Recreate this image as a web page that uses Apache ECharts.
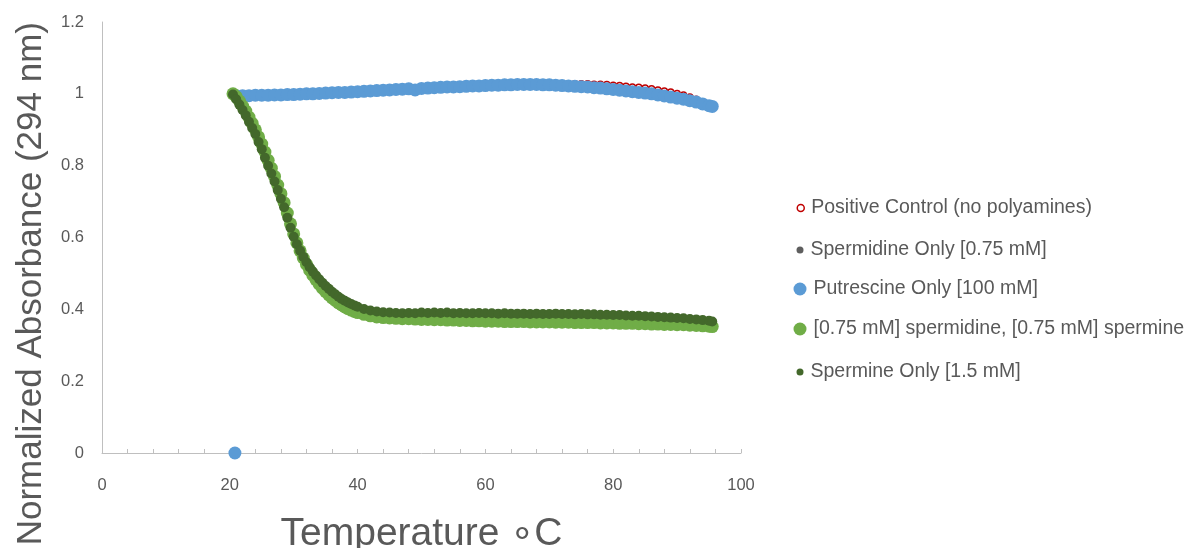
<!DOCTYPE html>
<html>
<head>
<meta charset="utf-8">
<script src="https://cdn.jsdelivr.net/npm/echarts@6/dist/echarts.min.js"></script>
<style>
html,body{margin:0;padding:0;background:#fff;}
#chart{width:1198px;height:548px;}
</style>
</head>
<body>
<div id="chart"></div>
<script>
// ---- Data ----
var seriesNames = [
  'Positive Control (no polyamines)',
  'Spermidine Only [0.75 mM]',
  'Putrescine Only [100 mM]',
  '[0.75 mM] spermidine, [0.75 mM] spermine',
  'Spermine Only [1.5 mM]'
];

// temperatures for flat (high) series
var tempHigh = [21,22,23,24,25,26,27,28,29,30,31,32,33,34,35,36,37,38,39,40,41,42,43,44,45,46,47,48,49,50,51,52,53,54,55,56,57,58,59,60,61,62,63,64,65,66,67,68,69,70,71,72,73,74,75,76,77,78,79,80,81,82,83,84,85,86,87,88,89,90,91,92,93,94,95,95.5];

var positiveControl = [0.999,0.999,0.999,1.000,1.000,1.000,1.001,1.001,1.002,1.002,
  1.003,1.004,1.004,1.005,1.006,1.007,1.008,1.008,1.009,1.010,
  1.011,1.012,1.013,1.014,1.015,1.016,1.017,1.018,1.017,1.019,
  1.020,1.021,1.022,1.023,1.023,1.024,1.025,1.026,1.026,1.027,
  1.028,1.028,1.029,1.029,1.030,1.030,1.030,1.030,1.029,1.029,
  1.028,1.028,1.028,1.028,1.028,1.028,1.027,1.027,1.026,1.024,
  1.023,1.021,1.019,1.018,1.016,1.014,1.011,1.008,1.005,1.001,
  0.997,0.991,0.985,0.977,0.969,0.965];

var spermidineOnly = [0.994,0.994,0.995,0.995,0.995,0.996,0.996,0.997,0.997,0.998,
  0.998,0.999,1.000,1.000,1.001,1.002,1.003,1.003,1.004,1.005,
  1.006,1.007,1.008,1.009,1.010,1.011,1.012,1.013,1.012,1.014,
  1.015,1.016,1.017,1.018,1.018,1.019,1.020,1.021,1.021,1.022,
  1.023,1.023,1.024,1.024,1.025,1.025,1.025,1.025,1.024,1.024,
  1.023,1.022,1.021,1.020,1.019,1.018,1.016,1.015,1.013,1.011,
  1.009,1.007,1.005,1.003,1.001,0.999,0.996,0.993,0.990,0.987,
  0.984,0.980,0.976,0.971,0.966,0.964];

// Putrescine: includes a single point at zero at the start
var tempPutrescine = [20.8,21,22,23,24,25,26,27,28,29,30,31,32,33,34,35,36,37,38,39,40,41,42,43,44,45,46,47,48,49,50,51,52,53,54,55,56,57,58,59,60,61,62,63,64,65,66,67,68,69,70,71,72,73,74,75,76,77,78,79,80,81,82,83,84,85,86,87,88,89,90,91,92,93,94,95,95.5];
var putrescineOnly = [0,
  0.995,0.995,0.995,0.996,0.996,0.996,0.997,0.997,0.998,0.998,
  0.999,1.000,1.000,1.001,1.002,1.003,1.004,1.004,1.005,1.006,
  1.007,1.008,1.009,1.010,1.011,1.012,1.013,1.014,1.011,1.015,
  1.016,1.017,1.018,1.019,1.019,1.020,1.021,1.022,1.022,1.023,
  1.024,1.024,1.025,1.025,1.026,1.026,1.026,1.026,1.025,1.025,
  1.024,1.023,1.022,1.021,1.020,1.019,1.017,1.016,1.014,1.012,
  1.010,1.008,1.006,1.004,1.002,1.000,0.997,0.994,0.991,0.988,
  0.985,0.981,0.977,0.972,0.967,0.965];

// temperatures for the melting (dropping) series
var tempMelt = [20.5,21,21.5,22,22.5,23,23.5,24,24.5,25,25.5,26,26.5,27,27.5,28,28.5,29,29.5,30,
  30.5,31,31.5,32,32.5,33,33.5,34,34.5,35,35.5,36,36.5,37,37.5,38,38.5,39,39.5,40,
  41,42,43,44,45,46,47,48,49,50,51,52,53,54,55,56,57,58,59,60,61,62,63,64,65,66,67,68,69,70,
  71,72,73,74,75,76,77,78,79,80,81,82,83,84,85,86,87,88,89,90,91,92,93,94,95,95.5];

var mixSpdSpm = [1.000,0.992,0.980,0.966,0.952,0.935,0.918,0.900,0.880,0.860,
  0.838,0.815,0.793,0.770,0.746,0.722,0.697,0.668,0.638,0.610,
  0.585,0.563,0.543,0.525,0.509,0.495,0.482,0.470,0.459,0.449,
  0.440,0.432,0.425,0.418,0.412,0.407,0.402,0.398,0.394,0.391,
  0.386,0.382,0.379,0.377,0.376,0.375,0.374,0.374,0.373,0.372,
  0.372,0.371,0.371,0.370,0.370,0.369,0.369,0.368,0.368,0.367,
  0.367,0.367,0.366,0.366,0.366,0.366,0.365,0.365,0.365,0.365,
  0.364,0.364,0.364,0.363,0.363,0.363,0.363,0.362,0.362,0.362,
  0.361,0.361,0.361,0.360,0.360,0.359,0.359,0.358,0.358,0.357,
  0.357,0.356,0.355,0.354,0.353,0.352];

var spermineOnly = [0.998,0.985,0.970,0.955,0.940,0.922,0.905,0.888,0.866,0.846,
  0.822,0.800,0.778,0.756,0.732,0.708,0.684,0.655,0.627,0.602,
  0.581,0.563,0.546,0.531,0.517,0.505,0.494,0.484,0.474,0.465,
  0.457,0.449,0.442,0.435,0.429,0.424,0.419,0.415,0.411,0.407,
  0.401,0.397,0.394,0.392,0.391,0.390,0.389,0.390,0.389,0.391,
  0.390,0.391,0.390,0.391,0.389,0.390,0.389,0.389,0.390,0.389,
  0.389,0.388,0.389,0.388,0.388,0.388,0.387,0.388,0.387,0.387,
  0.388,0.387,0.387,0.386,0.387,0.386,0.386,0.385,0.385,0.384,
  0.384,0.383,0.382,0.382,0.381,0.380,0.379,0.378,0.377,0.376,
  0.375,0.373,0.372,0.370,0.368,0.366];

var xTickValues = [0,20,40,60,80,100];
var yTickValues = [0,0.2,0.4,0.6,0.8,1,1.2];

// ---- Build ----
function pairs(xs, ys){ var out=[]; for(var i=0;i<xs.length;i++){ out.push([xs[i], ys[i]]); } return out; }

var FONT = '"Liberation Sans", Arial, sans-serif';
var TXT = '#595959';
var colors = {
  red: '#C00000', grey: '#5E5E5E', blue: '#5B9BD5', lgreen: '#70AD47', dgreen: '#43682B'
};

var chart = echarts.init(document.getElementById('chart'), null, {renderer:'canvas'});

function legendAt(name, top, size, style){
  return {
    data:[{name:name, icon:'circle', itemStyle:style}],
    orient:'vertical', left: 800 - size/2, top: top, padding:0,
    itemWidth:size, itemHeight:size, itemGap:0,
    selectedMode:false,
    textStyle:{color:TXT, fontSize:19.5, fontFamily:FONT, padding:[0,0,0,2]}
  };
}

var option = {
  backgroundColor:'#ffffff',
  animation:false,
  grid:{left:102, right:457, top:22, bottom:95, containLabel:false, outerBoundsMode:'none'},
  xAxis:{
    type:'value', min:0, max:100, interval:20,
    axisLine:{show:true, lineStyle:{color:'#BFBFBF', width:1}},
    axisTick:{show:true, inside:true, length:4, lineStyle:{color:'#BFBFBF'}},
    minorTick:{show:true, splitNumber:5, length:4, lineStyle:{color:'#BFBFBF'}},
    splitLine:{show:false},
    axisLabel:{color:TXT, fontSize:16.5, fontFamily:FONT, margin:24,
      formatter:function(v){ return xTickValues.indexOf(v)>=0 ? String(v) : ''; }},
    name:'Temperature \u2218C', nameLocation:'middle', nameGap:62,
    nameTextStyle:{color:TXT, fontSize:39, fontFamily:FONT}
  },
  yAxis:{
    type:'value', min:0, max:1.2, interval:0.2,
    axisLine:{show:true, lineStyle:{color:'#BFBFBF', width:1}},
    axisTick:{show:false},
    splitLine:{show:false},
    axisLabel:{color:TXT, fontSize:16.5, fontFamily:FONT, margin:18,
      formatter:function(v){ var r=Math.round(v*10)/10; return yTickValues.indexOf(r)>=0 ? String(r) : ''; }}
  },
  graphic:[{
    type:'text', x:31, y:22, rotation:Math.PI/2,
    style:{text:'Normalized Absorbance (294 nm)', fill:TXT, font:'35px ' + FONT,
      textAlign:'right', textVerticalAlign:'middle'}
  }],
  legend:[
    legendAt(seriesNames[0], 208-10, 7, {color:'#ffffff', borderColor:colors.red, borderWidth:1.5}),
    legendAt(seriesNames[1], 250-10, 7, {color:colors.grey}),
    legendAt(seriesNames[2], 289-10, 13, {color:colors.blue}),
    legendAt(seriesNames[3], 329-10, 13, {color:colors.lgreen}),
    legendAt(seriesNames[4], 372-10, 7, {color:colors.dgreen})
  ],
  series:[
    {name:seriesNames[0], type:'scatter', symbol:'circle', symbolSize:6,
      itemStyle:{color:'#ffffff', borderColor:colors.red, borderWidth:1.5, opacity:1},
      data:pairs(tempHigh, positiveControl), z:2},
    {name:seriesNames[1], type:'scatter', symbol:'circle', symbolSize:7,
      itemStyle:{color:colors.grey, opacity:1},
      data:pairs(tempHigh, spermidineOnly), z:3},
    {name:seriesNames[2], type:'scatter', symbol:'circle', symbolSize:13,
      itemStyle:{color:colors.blue, opacity:1},
      data:pairs(tempPutrescine, putrescineOnly), z:4},
    {name:seriesNames[3], type:'scatter', symbol:'circle', symbolSize:13,
      itemStyle:{color:colors.lgreen, opacity:1},
      data:pairs(tempMelt, mixSpdSpm), z:5},
    {name:seriesNames[4], type:'scatter', symbol:'circle', symbolSize:10,
      itemStyle:{color:colors.dgreen, opacity:1},
      data:pairs(tempMelt, spermineOnly), z:6}
  ]
};
chart.setOption(option);
</script>
</body>
</html>
